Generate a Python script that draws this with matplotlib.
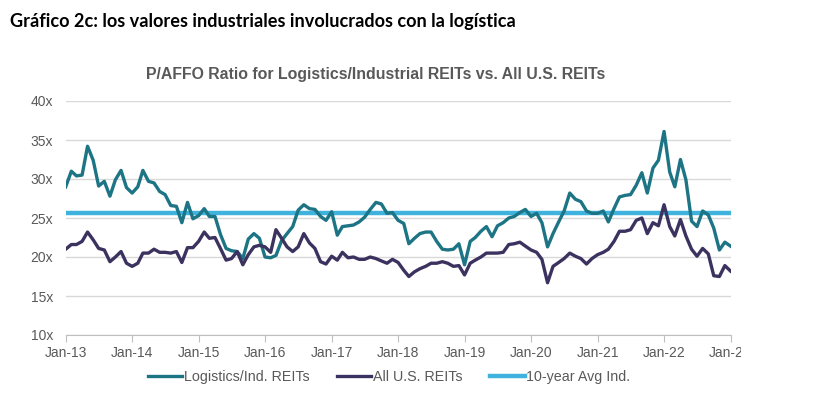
import numpy as np
import pandas as pd
import matplotlib
matplotlib.use("Agg")
import matplotlib.pyplot as plt
import matplotlib.dates as mdates
from matplotlib.transforms import Bbox

# monthly P/AFFO, Jan-13 .. Jan-23
logistics = [29.0, 31.0, 30.4, 30.5, 34.2, 32.4, 29.1, 29.7, 27.8, 29.9, 31.1, 28.9,
             28.2, 29.0, 31.1, 29.7, 29.5, 28.4, 28.0, 26.6, 26.5, 24.4, 27.0, 24.9,
             25.3, 26.2, 25.2, 25.2, 22.9, 21.1, 20.8, 20.7, 19.8, 22.3, 23.0, 22.4,
             20.0, 19.9, 20.2, 22.1, 23.0, 23.9, 26.0, 26.7, 26.2, 26.1, 25.2, 24.7,
             25.8, 22.8, 23.9, 24.0, 24.1, 24.5, 25.1, 26.1, 27.0, 26.8, 25.6, 25.7,
             24.7, 24.3, 21.7, 22.4, 23.0, 23.2, 23.2, 22.0, 21.0, 20.9, 21.0, 21.7,
             19.0, 22.0, 22.5, 23.3, 23.9, 22.6, 24.0, 24.4, 25.0, 25.2, 25.7, 26.1,
             25.2, 25.6, 24.4, 21.3, 23.0, 24.5, 25.9, 28.2, 27.4, 27.1, 25.9, 25.6,
             25.6, 25.9, 24.5, 26.2, 27.7, 27.9, 28.0, 29.2, 30.8, 28.2, 31.4, 32.4,
             36.1, 30.9, 29.0, 32.5, 29.9, 24.6, 23.9, 25.9, 25.4, 23.7, 20.9, 21.9,
             21.4]
all_reits = [21.0, 21.6, 21.6, 22.0, 23.2, 22.2, 21.1, 20.9, 19.4, 20.0, 20.7, 19.2,
             18.8, 19.2, 20.5, 20.5, 21.0, 20.6, 20.6, 20.5, 20.7, 19.3, 21.2, 21.2,
             22.0, 23.2, 22.4, 22.5, 21.1, 19.6, 19.8, 20.7, 19.0, 20.3, 21.3, 21.5,
             21.3, 20.6, 23.5, 22.4, 21.3, 20.7, 21.3, 23.0, 21.8, 21.1, 19.4, 19.1,
             20.1, 19.6, 20.6, 19.9, 20.0, 19.7, 19.7, 20.0, 19.8, 19.5, 19.2, 19.7,
             19.3, 18.3, 17.5, 18.1, 18.5, 18.8, 19.2, 19.2, 19.4, 19.2, 18.8, 18.9,
             17.7, 19.2, 19.6, 20.0, 20.5, 20.5, 20.5, 20.6, 21.6, 21.7, 21.9, 21.4,
             20.9, 20.6, 19.7, 16.7, 18.8, 19.3, 19.8, 20.5, 20.1, 19.8, 19.1, 19.8,
             20.3, 20.6, 21.0, 22.0, 23.3, 23.3, 23.5, 24.7, 25.0, 23.0, 24.4, 24.0,
             26.7, 23.9, 22.7, 24.8, 22.7, 21.0, 20.1, 21.1, 20.4, 17.6, 17.5, 18.9,
             18.2]
avg_ind = 25.6
dates = pd.date_range("2013-01-01", periods=len(logistics), freq="MS")
yticks = [10, 15, 20, 25, 30, 35, 40]

teal = "#1c7485"
purple = "#3c325f"
light_blue = "#3fb3de"
grey = "#595959"

fig = plt.figure(figsize=(8.26, 3.94), dpi=100)
ax = fig.add_axes([65.7 / 826, 1 - 335 / 394, 664.8 / 826, 234 / 394])

ax.plot(dates, logistics, color=teal, lw=2.4, label="Logistics/Ind. REITs", zorder=3)
ax.plot(dates, all_reits, color=purple, lw=2.4, label="All U.S. REITs", zorder=3)
ax.plot([dates[0], dates[-1]], [avg_ind, avg_ind], color=light_blue, lw=3.2,
        label="10-year Avg Ind.", zorder=2)

ax.set_xlim(dates[0], dates[-1])
ax.set_ylim(10, 40)
ax.set_yticks(yticks)
ax.set_yticklabels([f"{v}x" for v in yticks])
ax.grid(axis="y", color="#d9d9d9", lw=1)
ax.set_axisbelow(True)
for s in ["top", "right", "left"]:
    ax.spines[s].set_visible(False)
ax.spines["bottom"].set_color("#bfbfbf")
ax.xaxis.set_major_locator(mdates.YearLocator())
ax.xaxis.set_major_formatter(mdates.DateFormatter("%b-%y"))
ax.tick_params(axis="x", colors="#bfbfbf", labelcolor=grey, length=5, labelsize=10, pad=3)
ax.tick_params(axis="y", length=0, labelcolor=grey, labelsize=10, pad=9)
for t in ax.get_xticklabels() + ax.get_yticklabels():
    t.set_family("Liberation Sans")

# the source image is cut off just after the last tick label starts
fig.canvas.draw()
clip = Bbox.from_extents(0, 0, 741, 394)
for t in ax.get_xticklabels():
    t.set_clip_box(clip)
    t.set_clip_on(True)

fig.text(10 / 826, 1 - 21 / 394, "Gráfico 2c: los valores industriales involucrados con la logística",
         fontsize=13.1, fontweight="bold", family="Lato", va="center", ha="left")
fig.text(376 / 826, 1 - 75 / 394, "P/AFFO Ratio for Logistics/Industrial REITs vs. All U.S. REITs",
         fontsize=11.4, fontweight="bold", family="Liberation Sans", color=grey,
         va="center", ha="center")

leg = fig.legend(loc="center", bbox_to_anchor=(389 / 826, 1 - 377 / 394), ncol=3,
                 frameon=False, handlelength=2.4, columnspacing=1.95, handletextpad=0.1,
                 prop={"family": "Liberation Sans", "size": 10.3})
for t in leg.get_texts():
    t.set_color(grey)

fig.savefig("out.png", dpi=100)
